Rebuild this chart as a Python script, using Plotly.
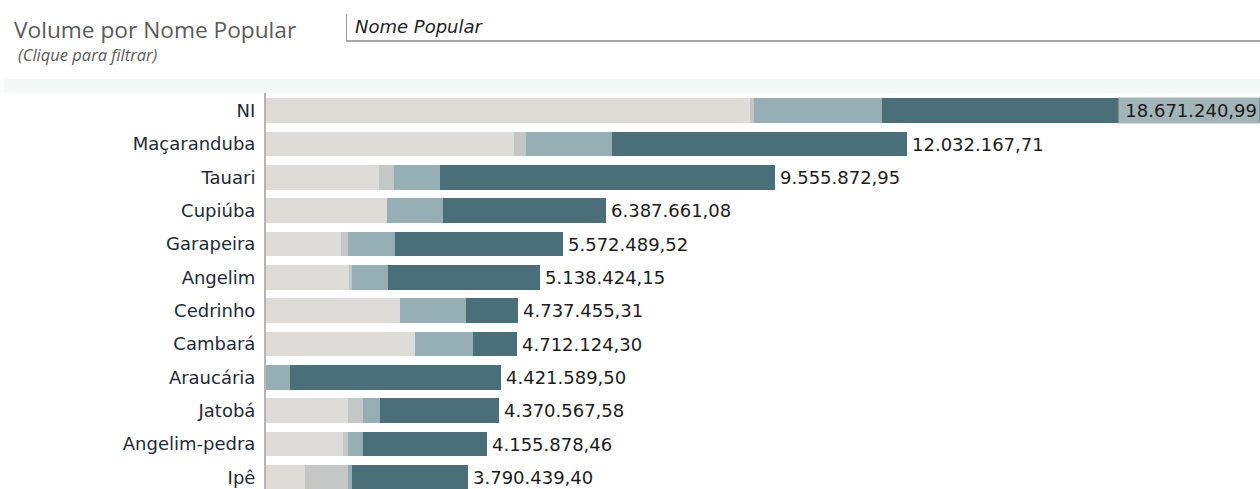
import plotly.graph_objects as go

# Species (top to bottom) and total volume per species
categories = ["NI", "Maçaranduba", "Tauari", "Cupiúba", "Garapeira", "Angelim",
              "Cedrinho", "Cambará", "Araucária", "Jatobá", "Angelim-pedra", "Ipê"]
totals = [18671240.99, 12032167.71, 9555872.95, 6387661.08, 5572489.52, 5138424.15,
          4737455.31, 4712124.30, 4421589.50, 4370567.58, 4155878.46, 3790439.40]

# Volume split into four groups per species (sums equal the totals)
group_a = [9097000, 4665000, 2129000, 2277000, 1414000, 1558000,
           2510000, 2791000, 0, 1539000, 1451000, 726000]
group_b = [71000, 212000, 283000, 0, 131000, 51000,
           0, 0, 0, 288000, 94000, 819000]
group_c = [2394000, 1628000, 854000, 1046000, 871000, 681000,
           1250000, 1095000, 445000, 307000, 282000, 64000]
group_d = [7109240.99, 5527167.71, 6289872.95, 3064661.08, 3156489.52, 2848424.15,
           977455.31, 826124.30, 3976589.50, 2236567.58, 2328878.46, 2181439.40]

colors = ["#dddcd8", "#c3c8c6", "#95afb5", "#4a6f78"]


def fmt_br(v):
    s = f"{v:,.2f}"
    return s.replace(",", "X").replace(".", ",").replace("X", ".")


fig = go.Figure()
for vals, col in zip([group_a, group_b, group_c, group_d], colors):
    fig.add_trace(go.Bar(
        y=categories, x=vals, orientation="h",
        marker=dict(color=col, line=dict(width=0)),
        hoverinfo="skip", showlegend=False,
    ))

annotations = []
for cat, tot in zip(categories, totals):
    inside = tot >= max(totals)
    ann = dict(
        x=tot, y=cat, xref="x", yref="y",
        text=fmt_br(tot), showarrow=False,
        xanchor="right" if inside else "left",
        xshift=0 if inside else 3,
        font=dict(family="DejaVu Sans", size=18, color="#1c1c1c"),
    )
    if inside:
        ann.update(bgcolor="#a2b4b8", width=136, height=21, borderpad=2, align="right")
    annotations.append(ann)

# Header texts
annotations += [
    dict(text="Volume por Nome Popular", x=12, y=30, xref="paper", yref="paper",
         showarrow=False, xanchor="left", yanchor="middle",
         font=dict(family="Open Sans", size=22.7, color="#5a5a5a")),
    dict(text="<i>(Clique para filtrar)</i>", x=16, y=55, xref="paper", yref="paper",
         showarrow=False, xanchor="left", yanchor="middle",
         font=dict(family="Open Sans", size=16.5, color="#5a5a5a")),
    dict(text="<i>Nome Popular</i>", x=353, y=26, xref="paper", yref="paper",
         showarrow=False, xanchor="left", yanchor="middle",
         font=dict(family="DejaVu Sans", size=18, color="#222222")),
]

W, H = 1260, 489
L, T = 266, 93

# convert pixel positions of header items to paper coordinates
for a in annotations[-3:]:
    a["x"] = (a["x"] - L) / (W - L)
    a["y"] = (H - a["y"]) / (H - T)

shapes = [
    # light band above the list
    dict(type="rect", xref="paper", yref="paper",
         x0=(4 - L) / (W - L), x1=1.0,
         y0=(H - 92.5) / (H - T), y1=(H - 79) / (H - T),
         fillcolor="#f4f8f7", line=dict(width=0), layer="below"),
    # search box borders
    dict(type="line", xref="paper", yref="paper",
         x0=(346.5 - L) / (W - L), x1=(346.5 - L) / (W - L),
         y0=(H - 42) / (H - T), y1=(H - 14) / (H - T),
         line=dict(color="#9a9a9a", width=1)),
    dict(type="line", xref="paper", yref="paper",
         x0=(346 - L) / (W - L), x1=1.0,
         y0=(H - 41) / (H - T), y1=(H - 41) / (H - T),
         line=dict(color="#a8a8a8", width=2)),
]

fig.update_layout(
    width=W, height=H,
    margin=dict(l=L, r=0, t=T, b=0, pad=0),
    barmode="stack", bargap=0.26,
    plot_bgcolor="white", paper_bgcolor="white",
    annotations=annotations, shapes=shapes,
    xaxis=dict(range=[0, max(totals)], visible=False, fixedrange=True),
    yaxis=dict(type="category", categoryorder="array", categoryarray=categories,
               range=[11.347, -0.534], autorange=False,
               showline=True, linecolor="#b5b5b5", linewidth=2,
               showgrid=False, zeroline=False, ticks="",
               ticklabelstandoff=5,
               tickfont=dict(family="DejaVu Sans", size=18, color="#1e2a36"),
               fixedrange=True),
)

fig.write_html("out.html", config={"displayModeBar": False})
